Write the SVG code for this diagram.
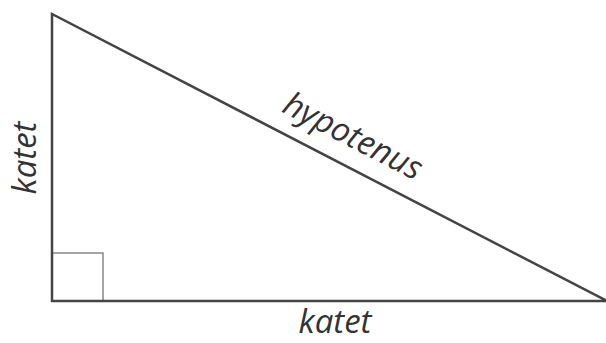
<svg xmlns="http://www.w3.org/2000/svg" width="606" height="343" viewBox="0 0 606 343">
<style>
.lbl{font-family:"Open Sans","Noto Sans","DejaVu Sans",sans-serif;font-style:italic;font-size:33px;fill:#333;text-anchor:middle}
</style>
<rect width="606" height="343" fill="#fff"/>
<g id="right-angle"><polyline points="52,253 103,253 103,301" fill="none" stroke="#888" stroke-width="1.5"/></g>
<g id="triangle"><polygon points="52,14 52,301 605,301 605,300 52,14" fill="none" stroke="#444" stroke-width="2.5" stroke-linejoin="miter"/></g>
<g id="labels">
<text class="lbl" x="335" y="333">katet</text>
<text class="lbl" transform="translate(36,158) rotate(-90)">katet</text>
<text class="lbl" transform="translate(348,146) rotate(27.3)">hypotenus</text>
</g>
</svg>
